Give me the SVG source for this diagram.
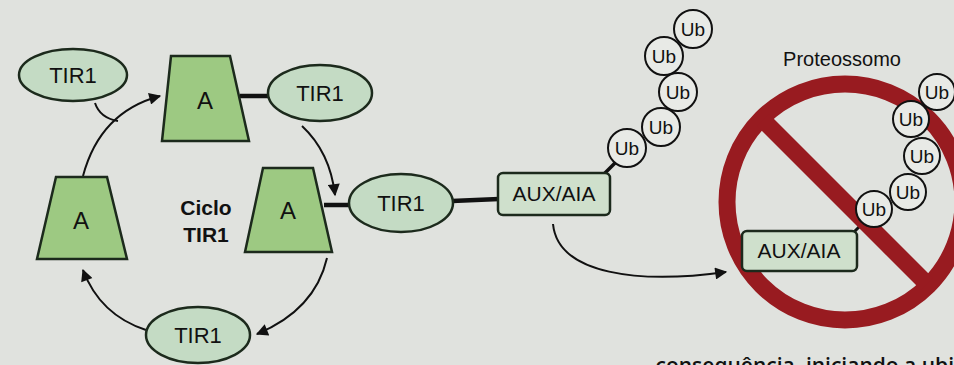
<svg xmlns="http://www.w3.org/2000/svg" width="954" height="365" viewBox="0 0 954 365">
<style>
.ell{fill:#c4dbc4;stroke:#1c2a1c;stroke-width:2.5}
.trap{fill:#9dc982;stroke:#1c2a1c;stroke-width:2.5}
.box{fill:#cfe0cc;stroke:#1c2a1c;stroke-width:2.5}
.ub{fill:#e8eae6;stroke:#111;stroke-width:2}
.t{font-family:"Liberation Sans",Arial,sans-serif;fill:#111;text-anchor:middle}
.lbl{font-size:22px}
.big{font-size:24px}
.ubt{font-size:19px}
.aux{font-size:21px}
.bar{stroke:#111;stroke-width:4.5;fill:none}
.arr{stroke:#111;stroke-width:2;fill:none}
</style>
<defs>
<marker id="ahb" viewBox="0 0 10 10" refX="9" refY="5" markerWidth="14" markerHeight="12" orient="auto" markerUnits="userSpaceOnUse">
<path d="M0,0 L10,5 L0,10 z" fill="#111"/>
</marker>
</defs>
<rect width="954" height="365" fill="#e0e2de"/>

<g id="connectors">
<path class="arr" d="M83 176 Q100 112 160 96" marker-end="url(#ahb)"/>
<path class="arr" d="M95 103 Q100 118 118 121"/>
<path class="arr" d="M302 126 Q330 152 335 195" marker-end="url(#ahb)"/>
<path class="arr" d="M327 258 Q315 310 257 334" marker-end="url(#ahb)"/>
<path class="arr" d="M146 330 Q100 315 83 270" marker-end="url(#ahb)"/>
<path class="arr" d="M553 224 C558 275 640 284 726 272" marker-end="url(#ahb)"/>
<line class="bar" x1="240" y1="96" x2="270" y2="96"/>
<line class="bar" x1="324" y1="205" x2="350" y2="205"/>
<line class="bar" x1="452" y1="201" x2="499" y2="199"/>
<line class="bar" x1="604" y1="174" x2="616" y2="162" style="stroke-width:3.5"/>
<line class="bar" x1="854" y1="232" x2="864" y2="222" style="stroke-width:3"/>
</g>

<g id="tir1-topleft"><ellipse class="ell" cx="73" cy="75" rx="54" ry="26"/><text class="t lbl" x="73" y="83">TIR1</text></g>
<g id="a-top"><polygon class="trap" points="171,56 230,56 249,141 162,141"/><text class="t big" x="205" y="109">A</text></g>
<g id="tir1-top"><ellipse class="ell" cx="320" cy="93" rx="52" ry="28"/><text class="t lbl" x="320" y="101">TIR1</text></g>
<g id="a-mid"><polygon class="trap" points="263,168 313,168 332,252 245,252"/><text class="t big" x="288" y="219">A</text></g>
<g id="tir1-mid"><ellipse class="ell" cx="401" cy="203" rx="52" ry="29"/><text class="t lbl" x="401" y="211">TIR1</text></g>
<g id="a-left"><polygon class="trap" points="56,177 107,177 127,259 37,259"/><text class="t big" x="81" y="229">A</text></g>
<g id="tir1-bottom"><ellipse class="ell" cx="198" cy="335" rx="52" ry="28"/><text class="t lbl" x="198" y="343">TIR1</text></g>
<g id="cycle-label"><text class="t" x="206" y="215" style="font-size:21px;font-weight:bold">Ciclo</text><text class="t" x="206" y="242" style="font-size:21px;font-weight:bold">TIR1</text></g>

<g id="aux1"><rect class="box" x="498" y="173" width="112" height="42" rx="5"/><text class="t aux" x="554" y="201">AUX/AIA</text></g>
<g id="ubchain1">
<circle class="ub" cx="693" cy="29" r="19"/><text class="t ubt" x="693" y="36">Ub</text>
<circle class="ub" cx="664" cy="56" r="19"/><text class="t ubt" x="664" y="63">Ub</text>
<circle class="ub" cx="678" cy="92" r="19"/><text class="t ubt" x="678" y="99">Ub</text>
<circle class="ub" cx="661" cy="127" r="19"/><text class="t ubt" x="661" y="134">Ub</text>
<circle class="ub" cx="627" cy="148" r="19"/><text class="t ubt" x="627" y="155">Ub</text>
</g>

<g id="proteasome">
<text class="t" x="842" y="66" style="font-size:20px">Proteossomo</text>
<circle cx="845" cy="202" r="118" fill="none" stroke="#981b20" stroke-width="17"/>
<line x1="763" y1="120" x2="927" y2="284" stroke="#981b20" stroke-width="17"/>
</g>
<g id="aux2"><rect class="box" x="742" y="231" width="115" height="40" rx="5"/><text class="t aux" x="799" y="258">AUX/AIA</text></g>
<g id="ubchain2">
<circle class="ub" cx="937" cy="92" r="18"/><text class="t ubt" x="937" y="99">Ub</text>
<circle class="ub" cx="911" cy="119" r="18"/><text class="t ubt" x="911" y="126">Ub</text>
<circle class="ub" cx="922" cy="156" r="18"/><text class="t ubt" x="922" y="163">Ub</text>
<circle class="ub" cx="908" cy="192" r="18"/><text class="t ubt" x="908" y="199">Ub</text>
<circle class="ub" cx="874" cy="209" r="18"/><text class="t ubt" x="874" y="216">Ub</text>
</g>

<text x="954" y="373" style="font-family:'Open Sans','Liberation Sans',sans-serif;font-size:21px;font-weight:600;fill:#111;text-anchor:end">consequência, iniciando a ubi</text>
</svg>
